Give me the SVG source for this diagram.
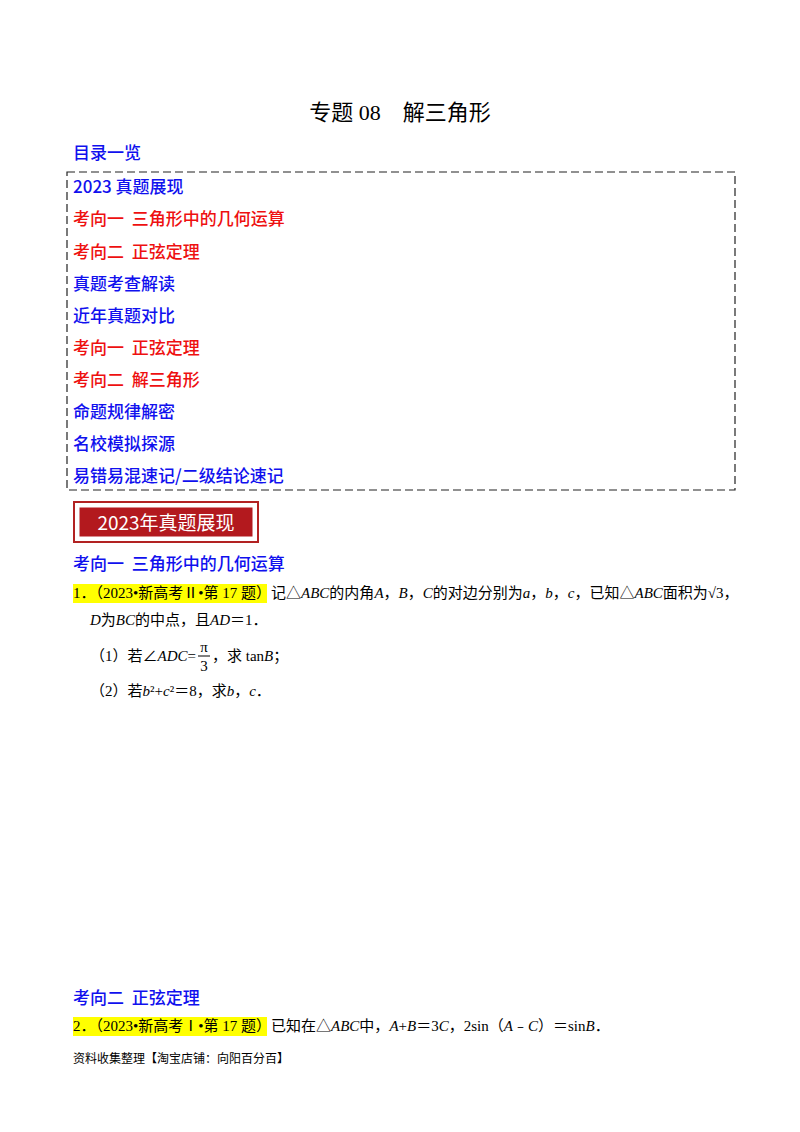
<svg xmlns="http://www.w3.org/2000/svg" width="800" height="1132" viewBox="0 0 800 1132">
<style>
.h{font-family:"Noto Sans CJK SC","Noto Sans",sans-serif;font-size:17px;font-weight:500}
.b{fill:#1010ee}.r{fill:#ee1010}
.t{font-family:"Liberation Serif","Noto Sans CJK SC",serif;font-size:15px;fill:#000}
.i{font-style:italic}
.hl{fill:#ffff00}
</style>
<rect width="800" height="1132" fill="#fff"/>
<text x="400" y="120" text-anchor="middle" font-family="Liberation Serif,Noto Sans CJK SC,serif" font-size="22" fill="#000">专题 08　解三角形</text>
<text x="73" y="159" class="h b">目录一览</text>
<rect x="67" y="172" width="668" height="318" fill="none" stroke="#222" stroke-width="1.2" stroke-dasharray="8,4"/>
<g id="toc">
<text x="73" y="193" class="h b">2023 真题展现</text>
<text x="73" y="225" class="h r">考向一&#160;&#160;三角形中的几何运算</text>
<text x="73" y="258" class="h r">考向二&#160;&#160;正弦定理</text>
<text x="73" y="290" class="h b">真题考查解读</text>
<text x="73" y="322" class="h b">近年真题对比</text>
<text x="73" y="354" class="h r">考向一&#160;&#160;正弦定理</text>
<text x="73" y="386" class="h r">考向二&#160;&#160;解三角形</text>
<text x="73" y="418" class="h b">命题规律解密</text>
<text x="73" y="450" class="h b">名校模拟探源</text>
<text x="73" y="482" class="h b">易错易混速记/二级结论速记</text>
</g>
<g id="banner">
<rect x="74" y="502" width="184" height="40" fill="#fff" stroke="#b22222" stroke-width="2"/>
<rect x="79" y="507" width="174" height="30" fill="#b3191e" stroke="#fff" stroke-width="1"/>
<text x="166" y="530" text-anchor="middle" font-family="Noto Sans CJK SC,sans-serif" font-size="19" fill="#fff">2023年真题展现</text>
</g>
<text x="73" y="570" class="h b">考向一&#160;&#160;三角形中的几何运算</text>
<rect x="73" y="584" width="194" height="19" class="hl"/>
<text x="73" y="598" class="t">1．（2023•新高考Ⅱ•第 17 题）记△<tspan class="i">ABC</tspan>的内角<tspan class="i">A</tspan>，<tspan class="i">B</tspan>，<tspan class="i">C</tspan>的对边分别为<tspan class="i">a</tspan>，<tspan class="i">b</tspan>，<tspan class="i">c</tspan>，已知△<tspan class="i">ABC</tspan>面积为√3，</text>
<text x="90" y="625" class="t"><tspan class="i">D</tspan>为<tspan class="i">BC</tspan>的中点，且<tspan class="i">AD</tspan>＝1．</text>
<text x="90" y="661" class="t">（1）若∠<tspan class="i">ADC</tspan>=</text>
<text x="204" y="652" class="t" text-anchor="middle">π</text>
<line x1="198" y1="656" x2="210" y2="656" stroke="#000"/>
<text x="204" y="671" class="t" text-anchor="middle">3</text>
<text x="212" y="661" class="t">，求 tan<tspan class="i">B</tspan>；</text>
<text x="90" y="696" class="t">（2）若<tspan class="i">b</tspan>²+<tspan class="i">c</tspan>²＝8，求<tspan class="i">b</tspan>，<tspan class="i">c</tspan>．</text>
<text x="73" y="1004" class="h b">考向二&#160;&#160;正弦定理</text>
<rect x="73" y="1017" width="194" height="19" class="hl"/>
<text x="73" y="1031" class="t">2．（2023•新高考Ⅰ•第 17 题）已知在△<tspan class="i">ABC</tspan>中，<tspan class="i">A</tspan>+<tspan class="i">B</tspan>＝3<tspan class="i">C</tspan>，2sin（<tspan class="i">A</tspan>﹣<tspan class="i">C</tspan>）＝sin<tspan class="i">B</tspan>．</text>
<text x="73" y="1063" font-family="Noto Sans CJK SC,sans-serif" font-size="12" fill="#000">资料收集整理【淘宝店铺：向阳百分百】</text>
</svg>
